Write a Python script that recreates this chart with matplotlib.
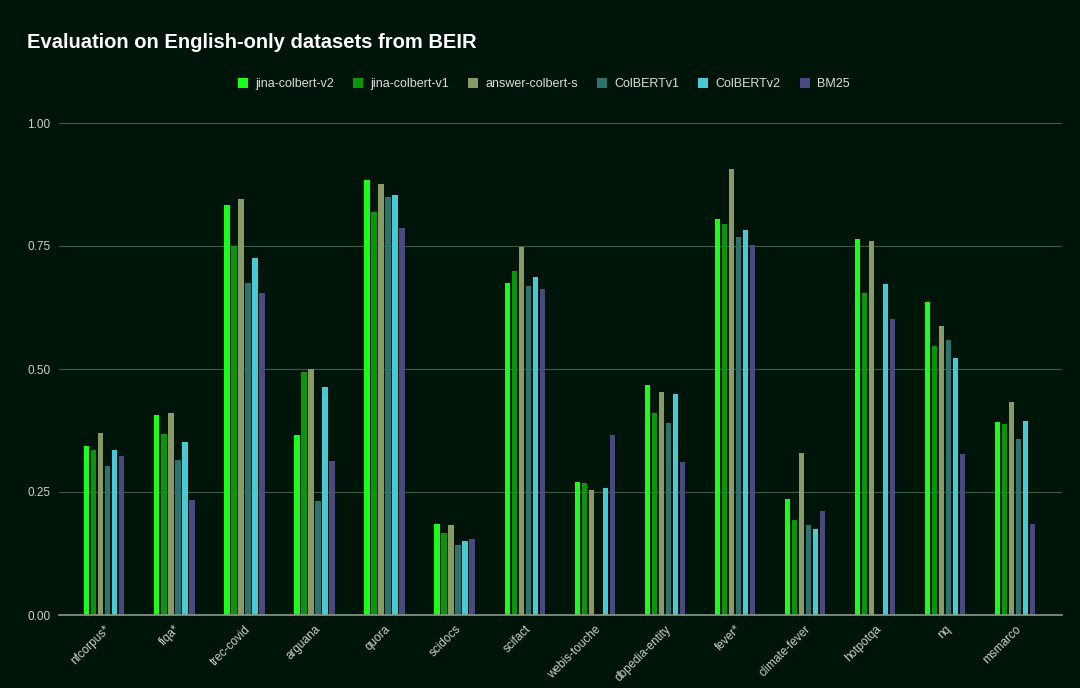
import numpy as np
import matplotlib
matplotlib.use("Agg")
import matplotlib.pyplot as plt

categories = ["nfcorpus*", "fiqa*", "trec-covid", "arguana", "quora", "scidocs", "scifact",
              "webis-touche", "dbpedia-entity", "fever*", "climate-fever", "hotpotqa", "nq", "msmarco"]
series_names = ["jina-colbert-v2", "jina-colbert-v1", "answer-colbert-s", "ColBERTv1", "ColBERTv2", "BM25"]
jina_colbert_v2 = [0.343, 0.406, 0.833, 0.365, 0.884, 0.184, 0.675, 0.271, 0.468, 0.804, 0.236, 0.764, 0.637, 0.393]
jina_colbert_v1 = [0.335, 0.367, 0.749, 0.493, 0.820, 0.167, 0.700, 0.268, 0.410, 0.794, 0.194, 0.654, 0.547, 0.388]
answer_colbert_s = [0.370, 0.410, 0.845, 0.500, 0.876, 0.182, 0.747, 0.254, 0.454, 0.907, 0.329, 0.760, 0.587, 0.432]
colbert_v1 = [0.303, 0.315, 0.675, 0.232, 0.850, 0.142, 0.669, np.nan, 0.390, 0.768, 0.182, np.nan, 0.559, 0.358]
colbert_v2 = [0.335, 0.352, 0.725, 0.464, 0.854, 0.151, 0.688, 0.259, 0.449, 0.783, 0.174, 0.673, 0.522, 0.395]
bm25 = [0.323, 0.234, 0.654, 0.312, 0.787, 0.155, 0.663, 0.365, 0.310, 0.752, 0.211, 0.601, 0.327, 0.185]
series = [jina_colbert_v2, jina_colbert_v1, answer_colbert_s, colbert_v1, colbert_v2, bm25]
colors = ["#19ff19", "#0a950a", "#8a9a66", "#2d726c", "#48c9d4", "#4b4a80"]
yticks = [0.0, 0.25, 0.5, 0.75, 1.0]

bg = "#001509"
plt.rcParams['font.family'] = ['Liberation Sans', 'DejaVu Sans']
fig = plt.figure(figsize=(10.8, 6.88), dpi=100, facecolor=bg)
ax = fig.add_axes([59/1080, 1 - 615/688, (1062-59)/1080, (615-123)/688])
ax.set_facecolor(bg)

x = np.arange(len(categories))
step = 0.1
width = 0.075
for i, (vals, c, name) in enumerate(zip(series, colors, series_names)):
    ax.bar(x + (i - 2.5) * step, vals, width=width, color=c, label=name, zorder=3)

ax.set_xlim(-0.647, 13.67)
ax.set_ylim(0, 1.0)
ax.set_yticks(yticks)
ax.set_yticklabels([f"{t:.2f}" for t in yticks], color="#c8d0c8", fontsize=8.5)
ax.set_xticks(x)
ax.set_xticklabels(categories, rotation=45, ha="right", rotation_mode="anchor",
                   color="#c8d0c8", fontsize=8.5)
ax.tick_params(axis="both", length=0, pad=6)
ax.tick_params(axis="x", pad=6)
ax.grid(axis="y", color="#3e5a44", linewidth=0.8, zorder=0)
for s in ["top", "right", "left"]:
    ax.spines[s].set_visible(False)
ax.spines["bottom"].set_color("#8a9a8a")
ax.spines["bottom"].set_linewidth(1.2)
ax.spines["bottom"].set_zorder(4)

fig.text(27/1080, 1 - 42/688, "Evaluation on English-only datasets from BEIR", color="white",
         fontsize=14.5, fontweight="bold", va="center", ha="left")
fig.legend(loc="center", bbox_to_anchor=(544/1080, 1 - 84/688), ncol=6, frameon=False,
           fontsize=9, handlelength=0.8, handleheight=0.8, handletextpad=0.6,
           columnspacing=1.5, labelcolor="#d8dcd8")
fig.savefig("out.png", dpi=100, facecolor=bg)
